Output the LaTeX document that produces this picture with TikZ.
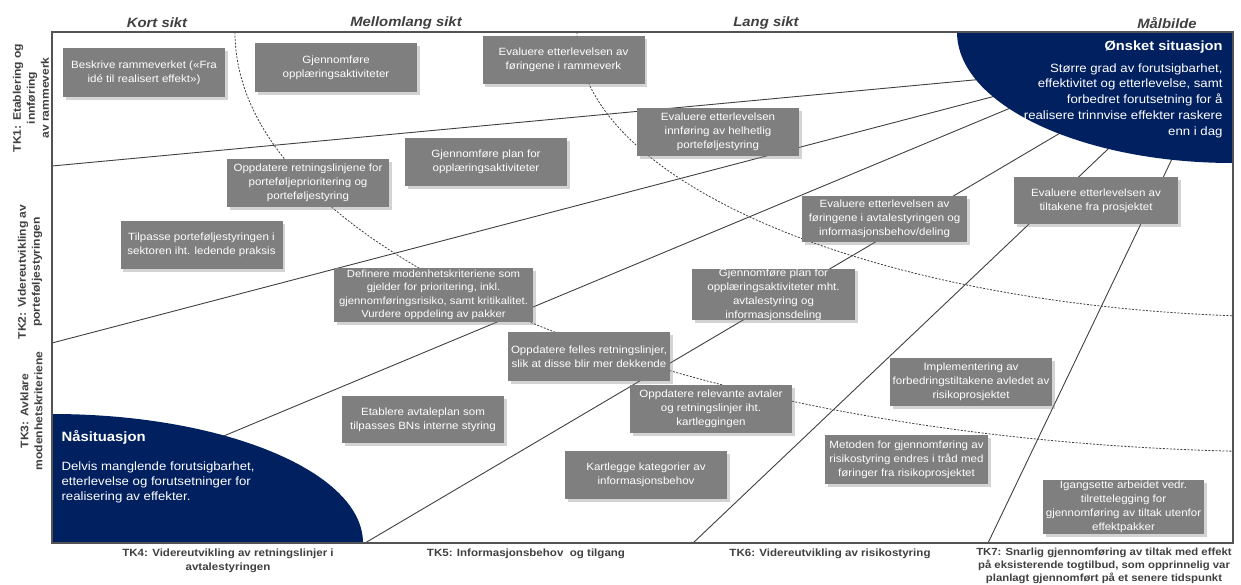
\documentclass[tikz,border=0pt]{standalone}
\usepackage{fontspec}
\setmainfont[FakeStretch=1.1]{Liberation Sans}
\usetikzlibrary{calc}
\usetikzlibrary{positioning}
\usetikzlibrary{shadows}
\definecolor{navy}{HTML}{002060}
\definecolor{boxgray}{HTML}{7F7F7F}
\definecolor{labelgray}{HTML}{404040}

\begin{document}
\begin{tikzpicture}[
  x=1pt, y=-1pt,
  tiltak/.style={rectangle, fill=boxgray, text=white, minimum width=162pt, minimum height=48pt,
    inner sep=0pt, align=center, font=\fontsize{10.5}{14}\selectfont,
    drop shadow={shadow xshift=2.5pt, shadow yshift=-2.5pt, opacity=0.35}},
  horizon/.style={font=\fontsize{13.5}{16}\selectfont\bfseries\itshape, text=labelgray},
  track/.style={font=\fontsize{10.5}{14}\selectfont\bfseries, text=labelgray, align=center},
  sideways/.style={track, font=\fontsize{11}{14}\selectfont\bfseries, rotate=90},
  fan/.style={draw=black!75, line width=0.9pt},
  phase/.style={draw=black!75, line width=0.8pt, dash pattern=on 2pt off 1.5pt},
]

\useasboundingbox (0,0) rectangle (1241,584);

% fan of track lines
\coordinate (tk1a) at (52,166);  \coordinate (tk1b) at (995,78);
\coordinate (tk2a) at (52,343);  \coordinate (tk2b) at (1005,93.5);
\coordinate (tk3a) at (210,441.7); \coordinate (tk3b) at (1020,104);
\coordinate (tk4a) at (365,543); \coordinate (tk4b) at (1067,129);
\coordinate (tk5a) at (693,543); \coordinate (tk5b) at (1115,142.4);
\coordinate (tk6a) at (988,543); \coordinate (tk6b) at (1175,152.6);

\draw[fan] (tk1a) -- (tk1b);
\draw[fan] (tk2a) -- (tk2b);
\draw[fan] (tk3a) -- (tk3b);
\draw[fan] (tk4a) -- (tk4b);
\draw[fan] (tk5a) -- (tk5b);
\draw[fan] (tk6a) -- (tk6b);

% phase borders
\begin{scope}
  \clip (52,32) rectangle (1233,543);
  \draw[phase] (235,32) arc[start angle=180, end angle=270, x radius=1065pt, y radius=420pt];
  \draw[phase] (577,32) arc[start angle=180, end angle=270, x radius=723pt, y radius=285pt];
\end{scope}

% situations
\fill[navy] (957,32) arc[start angle=180, end angle=270, x radius=276pt, y radius=131pt] -- (1233,32) -- cycle;
\fill[navy] (52,414) arc[start angle=90, end angle=0, x radius=311pt, y radius=129pt] -- (52,543) -- cycle;

\node (onsket) [anchor=east, text=white, font=\fontsize{13.3}{16}\selectfont\bfseries] at (1226,47) {Ønsket situasjon};
\node (onsketdesc) [anchor=east, text=white, align=right, font=\fontsize{12}{15.75}\selectfont] at (1226,100.5)
  {Større grad av forutsigbarhet,\\effektivitet og etterlevelse, samt\\forbedret forutsetning for å\\realisere trinnvise effekter raskere\\enn i dag};
\node (naa) [anchor=west, text=white, font=\fontsize{13.5}{16}\selectfont\bfseries] at (58,437) {Nåsituasjon};
\node (naadesc) [anchor=west, text=white, align=left, font=\fontsize{12}{15.3}\selectfont] at (58,482.5)
  {Delvis manglende forutsigbarhet,\\etterlevelse og forutsetninger for\\realisering av effekter.};

\draw[labelgray!90, line width=1.2pt] (52,32) rectangle (1233,543);

% horizons
\node (kort) [horizon] at (157,23) {Kort sikt};
\node (mellom) [horizon] at (406,23) {Mellomlang sikt};
\node (lang) [horizon] at (766,23) {Lang sikt};
\node (maal) [horizon] at (1167,23) {Målbilde};

% tracks
\node (tk1) [sideways] at (31,98) {TK1: Etablering og\\innføring\\av rammeverk};
\node (tk2) [sideways] at (30,272) {TK2: Videreutvikling av\\porteføljestyringen};
\node (tk3) [sideways] at (31.5,411) {TK3: Avklare\\modenhetskriteriene};
\node (tk4) [track, anchor=north] at (228,545) {TK4: Videreutvikling av retningslinjer i\\avtalestyringen};
\node (tk5) [track, anchor=north] at (526,545) {TK5: Informasjonsbehov\ \ og tilgang};
\node (tk6) [track, anchor=north] at (830,545) {TK6: Videreutvikling av risikostyring};
\node (tk7) [track, anchor=north, font=\fontsize{10.3}{13.2}\selectfont\bfseries] at (1104,544)
  {TK7: Snarlig gjennomføring av tiltak med effekt\\på eksisterende togtilbud, som opprinnelig var\\planlagt gjennomført på et senere tidspunkt};

% measures
\node (beskrive) [tiltak, minimum height=49pt] at (144,72.5) {Beskrive rammeverket («Fra\\idé til realisert effekt»)};
\node (opplaering) [tiltak, minimum height=49pt] at (336,67.5) {Gjennomføre\\opplæringsaktiviteter};
\node (evalramme) [tiltak] at (563.5,60) {Evaluere etterlevelsen av\\føringene i rammeverk};
\node (evalhelhet) [tiltak] at (718,132) {Evaluere etterlevelsen\\innføring av helhetlig\\porteføljestyring};
\node (planopp) [tiltak] at (486,162) {Gjennomføre plan for\\opplæringsaktiviteter};
\node (oppdretn) [tiltak] at (308,183) {Oppdatere retningslinjene for\\porteføljeprioritering og\\porteføljestyring};
\node (tilpasse) [tiltak] at (201.5,245) {Tilpasse porteføljestyringen i\\sektoren iht. ledende praksis};
\node (definere) [tiltak, minimum width=199pt, minimum height=54pt, font=\fontsize{10.3}{13.5}\selectfont] at (433.5,295)
  {Definere modenhetskriteriene som\\gjelder for prioritering, inkl.\\gjennomføringsrisiko, samt kritikalitet.\\Vurdere oppdeling av pakker};
\node (oppdfelles) [tiltak, minimum height=49pt] at (589,356.5) {Oppdatere felles retningslinjer,\\slik at disse blir mer dekkende};
\node (planavtale) [tiltak, minimum width=163pt] at (773.5,294.5) {Gjennomføre plan for\\opplæringsaktiviteter mht.\\avtalestyring og\\informasjonsdeling};
\node (evalavtale) [tiltak, minimum width=165pt, minimum height=46pt] at (884.5,219) {Evaluere etterlevelsen av\\føringene i avtalestyringen og\\informasjonsbehov/deling};
\node (evaltiltak) [tiltak, minimum width=164pt, minimum height=47pt] at (1096,200.5) {Evaluere etterlevelsen av\\tiltakene fra prosjektet};
\node (implement) [tiltak] at (971,382) {Implementering av\\forbedringstiltakene avledet av\\risikoprosjektet};
\node (oppdrelev) [tiltak] at (711,409) {Oppdatere relevante avtaler\\og retningslinjer iht.\\kartleggingen};
\node (etablere) [tiltak, minimum height=47pt] at (423,419.5) {Etablere avtaleplan som\\tilpasses BNs interne styring};
\node (kartlegge) [tiltak] at (646,475) {Kartlegge kategorier av\\informasjonsbehov};
\node (metoden) [tiltak, minimum width=163pt, minimum height=49pt] at (906.5,459.5) {Metoden for gjennomføring av\\risikostyring endres i tråd med\\føringer fra risikoprosjektet};
\node (igangsette) [tiltak, minimum width=161pt, minimum height=54pt] at (1123.5,507) {Igangsette arbeidet vedr.\\tilrettelegging for\\gjennomføring av tiltak utenfor\\effektpakker};

\end{tikzpicture}
\end{document}
